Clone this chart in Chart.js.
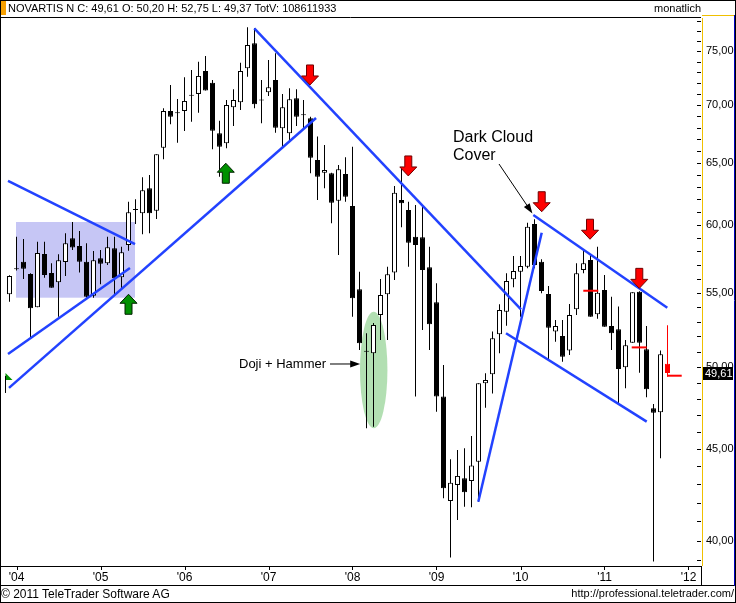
<!DOCTYPE html>
<html>
<head>
<meta charset="utf-8">
<script src="https://cdn.jsdelivr.net/npm/chart.js@4.4.1/dist/chart.umd.min.js"></script>
<style>
  body { margin: 0; background: #fff; }
  #wrap { position: relative; width: 736px; height: 603px; font-family: "Liberation Sans", Arial, sans-serif; }
  #wrap canvas { position: absolute; left: 0; top: 0; }
  .t { position: absolute; white-space: nowrap; color: #000; line-height: 1; }
</style>
</head>
<body>
<div id="wrap">
  <canvas id="chart" width="736" height="603"></canvas>
  <div class="t" style="left:8px;top:3px;font-size:11px;">NOVARTIS N C: 49,61 O: 50,20 H: 52,75 L: 49,37 TotV: 108611933</div>
  <div class="t" style="left:654px;top:3px;font-size:11px;">monatlich</div>
  <div class="t" style="left:453px;top:129px;font-size:16px;">Dark Cloud</div>
  <div class="t" style="left:453px;top:147px;font-size:16px;">Cover</div>
  <div class="t" style="left:239px;top:357px;font-size:13px;">Doji + Hammer</div>
  <div class="t" style="left:1px;top:588px;font-size:12px;">© 2011 TeleTrader Software AG</div>
  <div class="t" style="right:2px;top:588px;font-size:11px;">http://professional.teletrader.com/</div>
</div>
<script>
// Novartis monthly candles, Dec 2003 .. Oct 2011
const opens = [54.89,56.68,57.24,56.34,53.98,57.81,56.41,55.74,57.22,58.98,
  58.40,57.24,54.79,57.49,57.12,58.23,56.10,58.48,61.17,60.91,
  62.90,61.11,66.26,69.46,69.26,69.46,70.84,71.00,73.12,72.03,
  67.50,66.64,69.79,70.24,73.38,75.77,70.41,71.15,72.28,67.93,
  67.50,70.60,69.08,68.81,65.23,64.17,64.12,61.90,64.06,61.48,
  55.24,50.99,50.89,53.45,54.89,56.44,61.96,61.17,59.10,59.06,
  56.83,54.33,48.13,42.09,42.97,43.34,43.19,44.27,48.96,49.53,
  52.14,53.68,55.96,56.51,56.87,60.08,57.24,54.91,52.32,52.03,
  51.06,53.85,56.63,57.36,53.50,55.20,52.70,52.48,49.98,51.58,
  55.07,51.15,47.42,47.17,50.20];
const highs = [56.25,59.10,58.93,56.40,58.73,58.73,57.12,57.78,59.36,60.23,
  59.54,58.61,58.03,58.10,59.10,59.10,58.35,61.82,62.01,63.79,
  63.98,65.70,69.70,71.82,70.54,72.53,73.22,74.00,74.55,72.28,
  68.60,70.45,71.42,73.91,77.34,77.24,72.28,74.16,74.80,71.00,
  71.51,71.42,70.45,68.95,67.21,66.49,64.17,64.80,65.45,66.35,
  56.51,52.21,52.90,55.98,56.87,63.08,64.53,61.82,61.56,61.56,
  58.35,55.68,50.13,44.41,44.94,45.04,45.76,48.96,49.60,52.32,
  54.19,56.39,57.66,57.66,60.18,60.44,57.41,55.48,53.11,53.11,
  54.21,57.12,58.10,57.73,58.35,56.27,54.72,54.03,51.76,55.03,
  55.10,52.70,47.67,51.06,52.75];
const lows = [54.37,56.60,55.98,51.91,53.98,56.07,55.36,53.33,56.20,58.10,
  56.44,54.65,54.65,55.60,57.00,54.89,55.20,58.05,60.08,59.29,
  59.36,60.46,65.29,68.28,66.69,67.70,68.51,69.31,71.30,66.13,
  63.84,66.21,68.13,69.55,72.59,69.70,68.37,70.81,67.55,66.21,
  66.92,68.13,67.79,64.12,61.96,62.90,60.13,57.73,61.82,53.33,
  51.10,46.21,46.31,51.76,51.76,55.91,59.82,56.87,48.13,52.43,
  51.10,47.21,42.24,39.14,41.08,41.78,41.76,42.05,47.45,48.33,
  50.89,52.72,55.38,53.33,56.75,56.75,54.96,50.45,51.65,50.34,
  50.77,53.45,56.39,53.33,53.20,52.65,51.10,47.72,48.65,51.58,
  49.63,48.09,38.94,44.47,49.37];
const closes = [56.20,56.68,56.72,53.91,57.88,56.27,55.36,57.34,58.61,58.28,
  57.24,54.72,57.34,57.09,58.31,56.03,57.93,60.99,61.17,62.73,
  60.91,65.70,69.46,68.95,69.26,70.36,70.84,72.66,71.30,67.72,
  66.35,70.00,70.45,73.12,75.61,70.06,70.41,71.61,67.98,69.79,
  70.51,68.95,69.08,65.42,63.84,64.39,61.74,64.45,62.22,54.61,
  51.55,50.99,52.77,54.84,56.32,62.54,61.70,58.65,58.48,56.63,
  52.82,48.13,42.78,43.09,43.47,42.56,44.05,48.96,49.17,51.87,
  53.80,55.84,56.56,56.92,59.87,57.00,55.12,52.58,52.70,50.66,
  53.45,56.39,57.12,53.33,55.00,52.65,52.21,49.87,51.41,55.03,
  51.58,48.59,47.15,50.82,49.61];

const yearLabels = ["'04", "'05", "'06", "'07", "'08", "'09", "'10", "'11", "'12"];
const yearTickIdx = [1, 13, 25, 37, 49, 61, 73, 85, 97];   // January candles
const priceLabels = [40, 45, 50, 55, 60, 65, 70, 75];
const lastPrice = 49.61;

// drawn annotations: [[idx, price], [idx, price]]
const trendLines = [
  [[-0.21, 63.49], [17.93, 58.55]],
  [[-0.21, 50.84], [17.21, 56.78]],
  [[-0.07, 48.67], [43.79, 68.84]],
  [[34.97, 77.24], [73.07, 53.83]],
  [[66.97, 42.05], [76.03, 59.41]],
  [[70.93, 52.21], [91.03, 46.61]],
  [[74.83, 60.78], [93.97, 53.95]]
];
const redMarks = [[81.97, 84.11, 55.14], [88.89, 91.03, 51.27], [93.97, 96.03, 49.44]];
const downArrows = [[42.93, 71.82], [56.97, 63.90], [76.03, 61.03], [82.93, 58.91], [89.97, 55.31]];
const upArrows = [[30.90, 64.95], [17.00, 54.89]];

const lastIdx = closes.length - 1;
const idx = closes.map((c, i) => i);
const bodyColor = idx.map(i => i === lastIdx ? '#ff0000' : (closes[i] < opens[i] ? '#000000' : '#ffffff'));
const edgeColor = idx.map(i => i === lastIdx ? '#ff0000' : '#000000');

const minorTicks = [];
for (let v = 39; v <= 78; v++) minorTicks.push(v);

const font = '"Liberation Sans", Arial, sans-serif';

function arrowShape(ctx, x, tip, s) {
  ctx.beginPath();
  ctx.moveTo(x, tip);
  ctx.lineTo(x - 8.5, tip + s * 9);
  ctx.lineTo(x - 3.5, tip + s * 9);
  ctx.lineTo(x - 3.5, tip + s * 20);
  ctx.lineTo(x + 3.5, tip + s * 20);
  ctx.lineTo(x + 3.5, tip + s * 9);
  ctx.lineTo(x + 8.5, tip + s * 9);
  ctx.closePath();
}

function pointer(ctx, x0, y0, x1, y1) {
  const a = Math.atan2(y1 - y0, x1 - x0);
  ctx.strokeStyle = '#000';
  ctx.lineWidth = 1;
  ctx.beginPath();
  ctx.moveTo(x0, y0);
  ctx.lineTo(x1 - 6 * Math.cos(a), y1 - 6 * Math.sin(a));
  ctx.stroke();
  ctx.fillStyle = '#000';
  ctx.beginPath();
  ctx.moveTo(x1, y1);
  ctx.lineTo(x1 - 10 * Math.cos(a) + 3.5 * Math.sin(a), y1 - 10 * Math.sin(a) - 3.5 * Math.cos(a));
  ctx.lineTo(x1 - 10 * Math.cos(a) - 3.5 * Math.sin(a), y1 - 10 * Math.sin(a) + 3.5 * Math.cos(a));
  ctx.closePath();
  ctx.fill();
}

const decorations = {
  id: 'decorations',
  beforeDraw(chart) {
    const ctx = chart.ctx;
    ctx.save();
    ctx.fillStyle = '#fff';
    ctx.fillRect(0, 0, chart.width, chart.height);
    ctx.restore();
  },
  beforeDatasetsDraw(chart) {
    const {ctx, chartArea: a, scales: {x, y}} = chart;
    ctx.save();
    ctx.beginPath();
    ctx.rect(a.left, a.top, a.right - a.left, a.bottom - a.top);
    ctx.clip();
    // consolidation box
    const l = x.getPixelForValue(0.93), r = x.getPixelForValue(17.93);
    const t = y.getPixelForValue(60.23), b = y.getPixelForValue(54.65);
    ctx.fillStyle = '#c6c6f5';
    ctx.fillRect(l, t, r - l, b - t);
    // doji + hammer ellipse
    const cx = x.getPixelForValue(52.03);
    const et = y.getPixelForValue(53.68), eb = y.getPixelForValue(46.21);
    ctx.fillStyle = '#b2dfb2';
    ctx.beginPath();
    ctx.ellipse(cx, (et + eb) / 2, x.getPixelForValue(1.96) - x.getPixelForValue(0), (eb - et) / 2, 0, 0, Math.PI * 2);
    ctx.fill();
    ctx.restore();
  },
  afterDatasetsDraw(chart) {
    const {ctx, scales: {x, y}} = chart;
    ctx.save();
    ctx.lineWidth = 1;
    ctx.lineJoin = 'miter';
    downArrows.forEach(([i, p]) => {
      arrowShape(ctx, x.getPixelForValue(i), y.getPixelForValue(p), -1);
      ctx.fillStyle = '#ff0000'; ctx.fill();
      ctx.strokeStyle = '#700000'; ctx.stroke();
    });
    upArrows.forEach(([i, p]) => {
      arrowShape(ctx, x.getPixelForValue(i), y.getPixelForValue(p), 1);
      ctx.fillStyle = '#009000'; ctx.fill();
      ctx.strokeStyle = '#002000'; ctx.stroke();
    });
    // pointers from the notes
    pointer(ctx, 499, 164, x.getPixelForValue(74.7), y.getPixelForValue(60.9));
    pointer(ctx, 330, 364, x.getPixelForValue(50.1), y.getPixelForValue(50.19));
    // start flag
    const fx = Math.round(x.getPixelForValue(-0.64)) + 0.5, fy = y.getPixelForValue(49.17);
    ctx.fillStyle = '#009000';
    ctx.beginPath();
    ctx.moveTo(fx, fy - 7); ctx.lineTo(fx + 7, fy); ctx.lineTo(fx, fy); ctx.closePath();
    ctx.fill();
    ctx.strokeStyle = '#000';
    ctx.beginPath(); ctx.moveTo(fx, fy - 4); ctx.lineTo(fx, fy + 13); ctx.stroke();
    ctx.restore();
  },
  afterDraw(chart) {
    const {ctx, chartArea: a, scales: {x, y}} = chart;
    ctx.save();
    ctx.lineWidth = 1;
    // price axis ticks
    ctx.strokeStyle = '#000';
    ctx.beginPath();
    minorTicks.forEach(v => {
      const yy = Math.round(y.getPixelForValue(v)) + 0.5;
      ctx.moveTo(a.right - 4, yy); ctx.lineTo(a.right, yy);
    });
    // year ticks
    yearTickIdx.forEach(i => {
      const xx = Math.round(x.getPixelForValue(i)) + 0.5;
      if (xx < a.right) { ctx.moveTo(xx, a.bottom); ctx.lineTo(xx, a.bottom + 4); }
    });
    ctx.stroke();
    // frame
    ctx.strokeStyle = '#000';
    ctx.beginPath();
    ctx.moveTo(0, 17.5); ctx.lineTo(a.right, 17.5);
    ctx.moveTo(0, a.bottom + 0.5); ctx.lineTo(a.right + 1, a.bottom + 0.5);
    ctx.moveTo(0, 585.5); ctx.lineTo(736, 585.5);
    ctx.moveTo(a.right + 0.5, a.bottom); ctx.lineTo(a.right + 0.5, 586);
    ctx.stroke();
    ctx.strokeRect(0.5, 0.5, 735, 602);
    ctx.strokeStyle = '#f0c000';
    ctx.beginPath();
    ctx.moveTo(a.right + 1.5, 18); ctx.lineTo(a.right + 1.5, a.bottom);
    ctx.moveTo(a.right + 1, 15.5); ctx.lineTo(734, 15.5);
    ctx.stroke();
    ctx.strokeStyle = '#0000c0';
    ctx.beginPath();
    ctx.moveTo(734.5, 15); ctx.lineTo(734.5, 586);
    ctx.stroke();
    ctx.fillStyle = '#f7a000';
    ctx.fillRect(1, 1, 5, 14);
    // last price tag
    const ly = y.getPixelForValue(lastPrice);
    ctx.fillStyle = '#000';
    ctx.fillRect(a.right + 2, Math.round(ly) - 6, 30, 13);
    ctx.fillStyle = '#fff';
    ctx.font = '11px ' + font;
    ctx.textBaseline = 'middle';
    ctx.textAlign = 'left';
    ctx.fillText(lastPrice.toFixed(2).replace('.', ','), a.right + 4, Math.round(ly) + 0.5);
    ctx.restore();
  }
};

const lineSets = trendLines.map(seg => ({
  type: 'line',
  data: seg.map(([i, p]) => ({x: i, y: p})),
  borderColor: '#2242ff',
  borderWidth: 2.5,
  pointRadius: 0,
  order: 0
}));
const redSets = redMarks.map(([i0, i1, p]) => ({
  type: 'line',
  data: [{x: i0, y: p}, {x: i1, y: p}],
  borderColor: '#ff0000',
  borderWidth: 2,
  pointRadius: 0,
  order: 0
}));

new Chart(document.getElementById('chart'), {
  data: {
    datasets: [
      ...lineSets,
      ...redSets,
      {
        type: 'bar',
        data: idx.map(i => ({x: i, y: [opens[i], closes[i]]})),
        backgroundColor: bodyColor,
        borderColor: edgeColor,
        borderWidth: 1,
        borderSkipped: false,
        barThickness: 5,
        minBarLength: 1,
        inflateAmount: 0,
        grouped: false,
        order: 1
      },
      {
        type: 'bar',
        data: idx.map(i => ({x: i, y: [lows[i], highs[i]]})),
        backgroundColor: edgeColor,
        borderWidth: 0,
        barThickness: 1,
        inflateAmount: 0,
        grouped: false,
        order: 2
      }
    ]
  },
  options: {
    responsive: false,
    animation: false,
    events: [],
    layout: { padding: { top: 18, left: 2, right: 0, bottom: 18 } },
    plugins: { legend: { display: false }, tooltip: { enabled: false } },
    scales: {
      x: {
        type: 'linear',
        offset: false,
        min: -7.5 / 7,
        max: -7.5 / 7 + 699 / 7,
        afterBuildTicks: s => { s.ticks = yearTickIdx.map(v => ({value: v})); },
        afterFit: s => { s.height = 19; },
        grid: { display: false, drawTicks: false, offset: false },
        border: { display: false },
        ticks: {
          autoSkip: false, maxRotation: 0, padding: 4, color: '#000',
          font: { family: font, size: 12 },
          callback: v => yearLabels[yearTickIdx.indexOf(v)]
        }
      },
      y: {
        type: 'logarithmic',
        position: 'right',
        min: 38.72,
        max: 78.27,
        afterBuildTicks: s => { s.ticks = minorTicks.map(v => ({value: v})); },
        afterFit: s => { s.width = 35; },
        grid: { display: false, drawTicks: false },
        border: { display: false },
        ticks: {
          autoSkip: false, padding: 5, color: '#000',
          font: { family: font, size: 11 },
          callback: v => priceLabels.includes(v) ? v.toFixed(2).replace('.', ',') : ''
        }
      }
    }
  },
  plugins: [decorations]
});
</script>
</body>
</html>
